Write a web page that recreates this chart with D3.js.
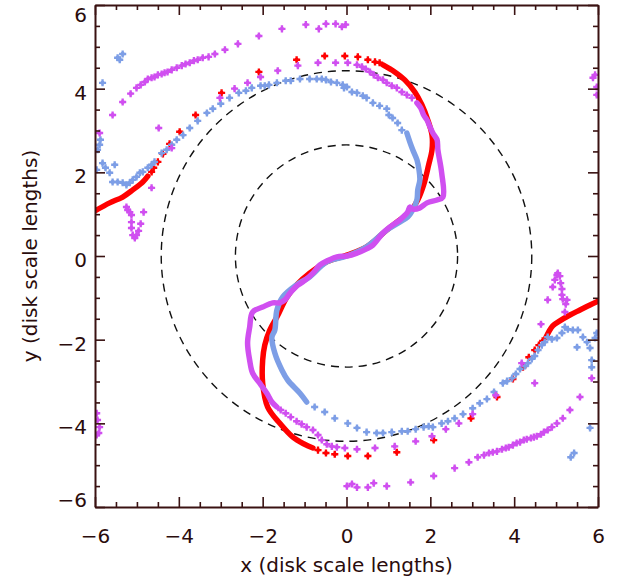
<!DOCTYPE html>
<html>
<head>
<meta charset="utf-8">
<script src="https://cdn.jsdelivr.net/npm/d3@7"></script>
<style>
  body { margin: 0; background: #fff; }
</style>
</head>
<body>
<svg id="chart" width="623" height="578"></svg>
<script>
// ---- data (disk scale lengths) ----
var circleRadii = [2.65, 4.42];
var majorTicks = [-6, -4, -2, 0, 2, 4, 6];

// red model spiral: dense arms drawn as thick tracks, sparse parts as single markers
var redArmLeft = [[-6.00,1.08],[-5.65,1.27],[-5.34,1.41],[-5.10,1.58],[-4.86,1.77],[-4.74,1.91]];
var redDotsUpper = [[-4.65,2.01],[-4.60,2.11],[-4.50,2.25],[-4.38,2.44],[-4.22,2.68],[-3.98,2.97],
  [-3.60,3.37],[-2.98,3.90],[-2.09,4.40],[-1.19,4.69],[-0.52,4.78],[-0.04,4.78],[0.27,4.76],
  [0.51,4.69],[0.68,4.64],[0.79,4.62]];
var redCore = [[0.87,4.57],[1.15,4.40],[1.39,4.21],[1.63,3.92],[1.80,3.61],[1.94,3.25],[2.04,2.89],
  [2.04,2.54],[1.96,2.18],[1.84,1.70],[1.70,1.34],[1.51,1.05],[1.27,0.86],[0.96,0.62],[0.48,0.22],
  [0.01,0.02],[-0.47,-0.14],[-0.88,-0.41],[-1.19,-0.69],[-1.42,-0.98],[-1.66,-1.46],[-1.83,-1.77],
  [-1.95,-2.13],[-2.00,-2.49],[-2.00,-3.04],[-1.88,-3.61],[-1.59,-4.00],[-1.28,-4.33],[-1.00,-4.50],
  [-0.80,-4.59]];
var redDotsLower = [[-0.68,-4.64],[-0.49,-4.71],[-0.28,-4.74],[0.03,-4.78],[0.51,-4.78],[1.20,-4.69],
  [2.08,-4.40],[2.97,-3.88],[3.59,-3.37],[3.97,-2.94],[4.21,-2.66],[4.35,-2.42],[4.49,-2.25],
  [4.59,-2.13],[4.68,-2.03]];
var redArmRight = [[4.76,-1.94],[4.92,-1.67],[5.09,-1.55],[5.33,-1.41],[5.57,-1.29],[5.81,-1.17],[6.00,-1.08]];

// blue simulation points
var blueCore = [[1.44,2.94],[1.51,2.73],[1.58,2.54],[1.68,2.30],[1.73,2.06],[1.75,1.82],[1.70,1.58],
  [1.68,1.34],[1.58,1.10],[1.46,0.93],[1.27,0.81],[0.96,0.62],[0.48,0.22],[0.01,0.00],[-0.47,-0.14],
  [-0.88,-0.50],[-1.19,-0.69],[-1.52,-0.98],[-1.66,-1.29],[-1.71,-1.77],[-1.78,-1.94],[-1.71,-2.32],
  [-1.54,-2.73],[-1.40,-2.97],[-1.11,-3.28],[-0.95,-3.49]];
var blueDots = [[-5.46,4.74],[-5.41,4.69],[-5.34,4.83],[-5.82,4.14],
  [-5.96,2.06],[-5.94,2.54],[-5.89,2.66],[-5.87,2.78],[-5.82,2.22],[-5.75,2.11],[-5.65,1.99],
  [-5.53,2.18],[-5.58,1.77],[-5.46,1.77],[-5.34,1.75],[-5.25,1.70],[-5.17,1.75],[-5.10,1.82],
  [-5.01,1.89],[-4.93,1.99],[-4.86,2.01],[-4.74,2.11],[-4.65,2.18],[-4.58,2.25],[-4.41,2.46],
  [-4.29,2.54],[-4.17,2.66],[-4.05,2.78],[-3.90,2.89],[-3.74,3.06],[-3.55,3.23],[-3.33,3.42],
  [-3.19,3.52],[-3.00,3.64],[-2.79,3.78],[-2.57,3.90],[-2.40,3.95],[-2.26,4.02],[-2.05,4.07],
  [-1.95,4.07],[-1.85,4.09],[-1.66,4.14],[-1.45,4.19],[-1.33,4.19],[-1.11,4.23],[-0.88,4.23],
  [-0.71,4.23],[-0.59,4.23],[-0.49,4.21],[-0.37,4.16],[-0.23,4.14],[-0.09,4.09],[-0.06,4.02],
  [0.01,4.04],[0.13,3.92],[0.25,3.90],[0.39,3.83],[0.48,3.78],[0.63,3.66],[0.79,3.59],[0.96,3.52],
  [1.01,3.37],[1.10,3.30],[1.22,3.18],[1.32,3.01],
  [-0.76,-3.61],[-0.52,-3.73],[-0.28,-3.88],[0.03,-4.00],[0.25,-4.11],[0.48,-4.21],[0.72,-4.23],
  [0.87,-4.23],[1.08,-4.21],[1.32,-4.19],[1.46,-4.19],[1.65,-4.14],[1.84,-4.09],[1.96,-4.07],
  [2.06,-4.09],[2.27,-4.00],[2.42,-3.95],[2.58,-3.88],[2.78,-3.78],[3.01,-3.64],[3.18,-3.52],
  [3.35,-3.42],[3.52,-3.25],[3.73,-3.04],[3.83,-2.99],[3.95,-2.92],[4.04,-2.82],[4.14,-2.70],
  [4.26,-2.63],[4.33,-2.56],[4.42,-2.46],[4.49,-2.39],[4.57,-2.25],[4.66,-2.13],[4.73,-2.06],
  [4.80,-1.94],[4.90,-1.99],[5.02,-1.96],[5.14,-1.84],[5.21,-1.70],[5.28,-1.75],[5.40,-1.77],
  [5.52,-1.77],[5.64,-1.94],[5.50,-2.18],[5.74,-2.06],[5.81,-2.20],[5.85,-2.49],[5.85,-2.66],
  [5.93,-1.96],[5.97,-1.84],
  [5.81,-4.11],[5.35,-4.81],[5.43,-4.71]];

// magenta simulation points
var magentaCore = [[1.68,3.66],[1.77,3.54],[1.84,3.37],[1.92,3.25],[1.99,3.09],[2.06,2.94],[2.16,2.78],
  [2.18,2.54],[2.27,1.99],[2.30,1.41],[2.16,1.34],[1.92,1.27],[1.75,1.15],[1.58,1.12],[1.51,1.17],
  [1.46,1.05],[1.27,0.86],[1.03,0.69],[0.87,0.55],[0.63,0.26],[0.48,0.17],[0.25,0.07],[0.01,0.00],
  [-0.23,-0.02],[-0.47,-0.12],[-0.64,-0.22],[-0.80,-0.41],[-1.04,-0.62],[-1.19,-0.72],[-1.35,-0.89],
  [-1.47,-1.05],[-1.59,-1.12],[-1.76,-1.12],[-2.00,-1.22],[-2.24,-1.34],[-2.31,-1.70],[-2.36,-2.08],
  [-2.31,-2.49],[-2.24,-2.80],[-2.07,-3.04],[-1.90,-3.28],[-1.78,-3.49],[-1.66,-3.61]];
var magentaDots = [
  // upper outer arc
  [-5.34,3.68],[-5.15,3.88],[-5.01,4.02],[-4.91,4.09],[-4.81,4.16],[-4.74,4.23],[-4.65,4.26],
  [-4.58,4.28],[-4.50,4.33],[-4.41,4.35],[-4.34,4.38],[-4.27,4.40],[-4.17,4.45],[-4.05,4.50],
  [-3.93,4.55],[-3.84,4.59],[-3.74,4.62],[-3.64,4.67],[-3.55,4.69],[-3.43,4.74],[-3.29,4.76],
  [-3.14,4.83],[-2.90,4.93],[-2.59,5.07],[-2.09,5.26],[-1.54,5.43],[-0.97,5.53],[-0.66,5.43],
  [-0.49,5.55],[-0.26,5.55],[-0.11,5.48],[-0.02,5.53],
  // left edge, left extras and spike
  [-5.58,3.37],[-5.89,2.94],[-4.48,3.06],[-4.17,2.58],[-4.65,1.63],
  [-5.25,1.17],[-5.22,1.10],[-5.17,1.05],[-5.13,0.98],[-5.13,0.81],[-5.13,0.67],[-5.10,0.50],
  [-5.05,0.43],[-5.01,0.50],[-4.96,0.60],[-4.91,0.77],[-4.84,1.05],
  // upper inner arc
  [-3.02,3.78],[-2.67,4.00],[-2.36,4.14],[-2.05,4.28],[-1.64,4.43],[-1.16,4.55],[-0.68,4.62],
  [-0.26,4.62],[0.03,4.62],[0.25,4.57],[0.37,4.52],[0.46,4.47],[0.56,4.40],[0.65,4.33],[0.75,4.26],
  [0.87,4.21],[0.96,4.14],[1.08,4.07],[1.20,4.02],[1.32,3.92],[1.44,3.85],[1.56,3.78],
  // upper right edge
  [5.88,4.26],[5.93,4.33],[5.97,4.04],[5.97,3.85],
  // lower inner arc
  [-1.57,-3.68],[-1.45,-3.76],[-1.33,-3.85],[-1.19,-3.95],[-1.07,-4.02],[-0.95,-4.09],[-0.80,-4.16],
  [-0.68,-4.28],[-0.59,-4.40],[-0.47,-4.50],[-0.35,-4.55],[-0.23,-4.57],[-0.04,-4.59],[0.25,-4.62],
  [0.68,-4.59],[1.15,-4.55],[1.65,-4.43],[2.04,-4.31],[2.37,-4.14],[2.68,-4.00],[3.01,-3.78],
  [3.56,-3.33],[4.18,-2.56],[4.49,-3.04],[4.64,-1.63],
  // right spike
  [4.80,-1.05],[4.92,-0.74],[4.97,-0.57],[5.02,-0.45],[5.04,-0.41],[5.09,-0.48],[5.11,-0.65],
  [5.14,-0.79],[5.14,-0.93],[5.16,-1.03],[5.26,-1.05],[5.23,-1.15],[5.21,-1.34],
  // right edge and lower outer arc
  [5.85,-2.92],[5.57,-3.37],[5.33,-3.68],[5.16,-3.88],[5.02,-4.00],[4.90,-4.09],[4.80,-4.16],
  [4.71,-4.21],[4.64,-4.26],[4.54,-4.31],[4.47,-4.33],[4.40,-4.35],[4.30,-4.38],[4.23,-4.40],
  [4.14,-4.45],[4.06,-4.47],[3.97,-4.52],[3.87,-4.57],[3.80,-4.59],[3.71,-4.62],[3.59,-4.67],
  [3.49,-4.69],[3.40,-4.71],[3.28,-4.76],[3.13,-4.81],[2.92,-4.93],[2.58,-5.07],[2.08,-5.26],
  [1.53,-5.41],[0.96,-5.50],[0.65,-5.43],[0.51,-5.53],[0.25,-5.53],[0.13,-5.45],[0.01,-5.50],
  // lower left edge
  [-5.96,-3.76],[-5.94,-3.92],[-5.89,-4.09],[-5.91,-4.23],[-5.96,-4.28]];

// ---- drawing ----
var svg = d3.select("#chart");
var x = d3.scaleLinear().domain([-6, 6]).range([95, 598]);
var y = d3.scaleLinear().domain([-6, 6]).range([507, 5]);
var axisColor = "#3a1212";
var textColor = "#2a0c0c";

svg.append("clipPath").attr("id", "plotclip").append("rect")
  .attr("x", 95).attr("y", 5).attr("width", 503).attr("height", 502);
var plot = svg.append("g").attr("clip-path", "url(#plotclip)");

// dashed reference circles
plot.selectAll("circle.ring").data(circleRadii).enter().append("circle")
  .attr("class", "ring")
  .attr("cx", x(0)).attr("cy", y(0))
  .attr("r", function(d) { return x(d) - x(0); })
  .attr("fill", "none").attr("stroke", "#111").attr("stroke-width", 1.4)
  .attr("stroke-dasharray", "8,6");

var line = d3.line()
  .x(function(d) { return x(d[0]); })
  .y(function(d) { return y(d[1]); })
  .curve(d3.curveCatmullRom);
var marker = d3.symbol().type(d3.symbolCross).size(28);

function drawSeries(tracks, dots, color) {
  tracks.forEach(function(t) {
    plot.append("path").datum(t)
      .attr("d", line)
      .attr("fill", "none").attr("stroke", color).attr("stroke-width", 5.5)
      .attr("stroke-linecap", "round").attr("stroke-linejoin", "round");
  });
  var g = plot.append("g");
  g.selectAll("circle").data(dots).enter().append("circle")
    .attr("cx", function(d) { return x(d[0]); })
    .attr("cy", function(d) { return y(d[1]); })
    .attr("r", 2.1)
    .attr("fill", color);
  g.selectAll("path").data(dots).enter().append("path")
    .attr("d", marker)
    .attr("transform", function(d) { return "translate(" + x(d[0]) + "," + y(d[1]) + ")"; })
    .attr("fill", color);
}

drawSeries([redArmLeft, redCore, redArmRight], redDotsUpper.concat(redDotsLower), "#ff0000");
drawSeries([blueCore], blueDots, "#7d9ee6");
drawSeries([magentaCore], magentaDots, "#d04ff0");

// axes: ticks point inward on all four sides
var minorTicks = d3.range(-6, 6.001, 0.5).filter(function(v) { return majorTicks.indexOf(v) < 0; });

function addAxis(gen, transform, pad, withLabels) {
  var gMinor = svg.append("g").attr("transform", transform)
    .call(gen.tickValues(minorTicks).tickSize(-5).tickSizeOuter(0).tickFormat(""));
  gMinor.select(".domain").remove();
  var g = svg.append("g").attr("transform", transform)
    .call(gen.tickValues(majorTicks).tickSize(-10).tickSizeOuter(0).tickPadding(pad)
      .tickFormat(withLabels ? d3.format("d") : ""));
  [gMinor, g].forEach(function(a) {
    a.selectAll("line").attr("stroke", axisColor).attr("stroke-width", 1.6);
  });
  g.select(".domain").attr("stroke", axisColor).attr("stroke-width", 2);
  g.attr("font-family", "DejaVu Sans, sans-serif").attr("font-size", 20);
  g.selectAll("text").attr("fill", textColor);
  return g;
}

addAxis(d3.axisBottom(x), "translate(0,507)", 22, true);
var yAxisG = addAxis(d3.axisLeft(y), "translate(95,0)", 8, true);
// left labels sit a little below their ticks; the end labels are pulled inside the frame
yAxisG.selectAll(".tick text")
  .attr("transform", function(d) { return "translate(0," + (d === 6 ? 10 : d === -6 ? -7 : 4) + ")"; });
addAxis(d3.axisTop(x), "translate(0,5)", 0, false);
addAxis(d3.axisRight(y), "translate(598,0)", 0, false);

// axis titles
svg.append("text")
  .attr("x", x(0)).attr("y", 572)
  .attr("text-anchor", "middle")
  .attr("font-family", "DejaVu Sans, sans-serif").attr("font-size", 20)
  .attr("fill", textColor)
  .text("x (disk scale lengths)");

svg.append("text")
  .attr("transform", "translate(37," + y(0) + ") rotate(-90)")
  .attr("text-anchor", "middle")
  .attr("font-family", "DejaVu Sans, sans-serif").attr("font-size", 20)
  .attr("fill", textColor)
  .text("y (disk scale lengths)");
</script>
</body>
</html>
